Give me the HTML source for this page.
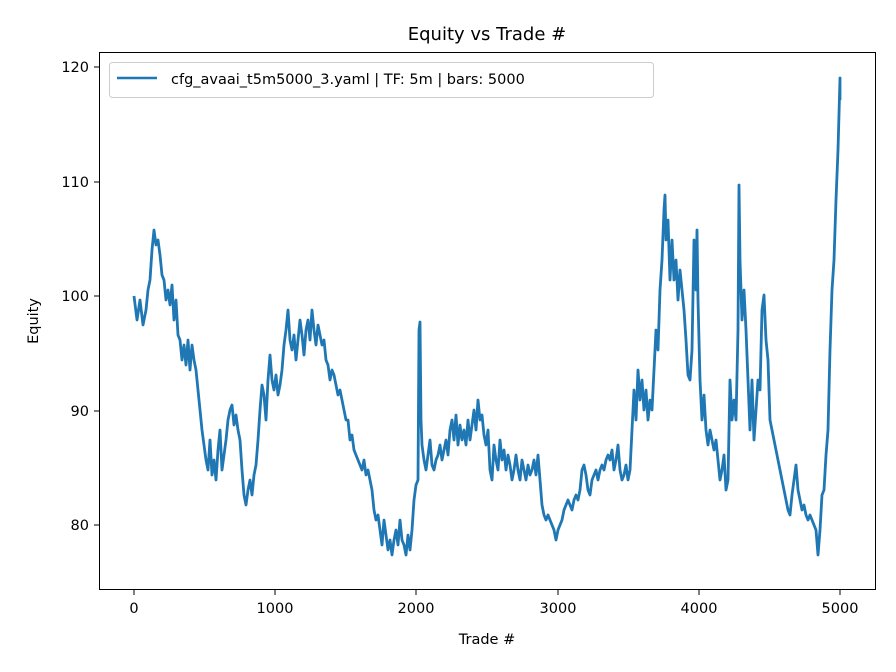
<!DOCTYPE html>
<html><head><meta charset="utf-8"><style>body{margin:0;background:#fff}svg{display:block;font-family:"DejaVu Sans","Liberation Sans",sans-serif}</style></head><body>
<svg width="896" height="672" viewBox="0 0 896 672">
<rect width="896" height="672" fill="#fff"/>
<text x="487" y="40" font-size="18" text-anchor="middle">Equity vs Trade #</text>
<g stroke="#000" stroke-width="1">
<line x1="134" y1="590" x2="134" y2="595"/><line x1="275" y1="590" x2="275" y2="595"/><line x1="416" y1="590" x2="416" y2="595"/><line x1="558" y1="590" x2="558" y2="595"/><line x1="699" y1="590" x2="699" y2="595"/><line x1="840" y1="590" x2="840" y2="595"/>
<line x1="94" y1="67" x2="99" y2="67"/><line x1="94" y1="182" x2="99" y2="182"/><line x1="94" y1="296" x2="99" y2="296"/><line x1="94" y1="411" x2="99" y2="411"/><line x1="94" y1="525" x2="99" y2="525"/>
</g>
<g font-size="14.5" text-anchor="middle">
<text x="134" y="613">0</text><text x="275" y="613">1000</text><text x="416" y="613">2000</text><text x="558" y="613">3000</text><text x="699" y="613">4000</text><text x="840" y="613">5000</text>
</g>
<g font-size="14.5" text-anchor="end">
<text x="89" y="72">120</text><text x="89" y="187">110</text><text x="89" y="301">100</text><text x="89" y="416">90</text><text x="89" y="530">80</text>
</g>
<text x="487" y="644" font-size="14.5" text-anchor="middle">Trade #</text>
<text transform="translate(38,321) rotate(-90)" font-size="14.5" text-anchor="middle">Equity</text>
<polyline fill="none" stroke="#1f77b4" stroke-width="2.8" stroke-linejoin="round" points="134,296 137,320 140,300 143,325 146,310 148,290 150,280 152,250 154,230 156,245 158,240 160,255 162,275 164,280 166,300 168,290 170,305 172,285 174,320 176,300 178,335 180,340 182,360 184,345 186,365 188,340 190,370 192,345 194,360 196,370 198,390 200,410 202,430 204,445 206,460 208,470 210,440 212,475 214,460 216,480 218,450 220,430 222,470 224,455 226,440 228,420 230,410 232,405 234,425 236,415 238,430 240,440 242,470 244,495 246,505 248,490 250,480 252,495 254,475 256,465 258,440 260,410 262,385 264,395 266,420 268,380 270,355 272,380 274,390 276,375 278,395 280,385 282,370 284,345 286,330 288,310 290,340 292,350 294,335 296,360 298,340 300,320 302,335 304,355 306,330 308,320 310,340 312,310 314,330 316,345 318,325 320,335 322,345 324,340 326,360 328,365 330,380 332,370 334,375 336,385 338,395 340,390 342,400 344,410 346,420 348,420 350,440 352,435 354,450 356,455 358,460 360,465 362,470 364,460 366,475 368,470 370,480 372,490 374,510 376,520 378,515 380,530 382,545 384,520 386,535 388,550 390,540 392,555 394,540 396,530 398,545 400,520 402,540 404,545 406,555 408,535 410,550 412,530 414,500 416,485 418,480 419,330 420,322 421,420 422,445 424,460 426,470 428,455 430,440 432,465 434,470 436,460 438,455 440,445 442,460 444,450 446,440 448,455 450,430 452,420 454,440 456,415 458,445 460,425 462,440 464,430 466,445 468,420 470,440 472,425 474,410 476,430 478,400 480,420 482,415 484,435 486,445 488,430 490,470 492,480 494,445 496,460 498,470 500,440 502,460 504,450 506,470 508,455 510,465 512,480 514,470 516,455 518,470 520,480 522,460 524,470 526,480 528,465 530,475 532,470 534,460 536,475 538,455 540,480 542,505 544,515 546,520 548,515 550,520 552,525 554,530 556,540 558,530 560,525 562,520 564,510 566,505 568,500 570,505 572,510 574,500 576,495 578,500 580,490 582,470 584,465 586,475 588,490 590,495 592,480 594,475 596,470 598,480 600,470 602,465 604,470 606,460 608,455 610,460 612,450 614,470 616,460 618,445 620,470 622,480 624,475 626,465 628,480 630,470 632,430 634,390 636,420 638,370 640,400 642,380 644,410 646,390 648,420 650,400 652,410 654,370 656,330 658,350 660,290 662,260 664,210 665,195 666,240 668,220 670,280 672,240 674,280 676,260 678,300 680,270 682,290 684,310 686,340 688,375 690,380 692,350 694,240 696,290 697,230 698,300 700,380 702,420 704,395 706,430 708,445 710,430 712,440 714,450 716,440 718,460 720,480 722,470 724,455 726,490 728,480 730,380 732,420 734,400 736,420 738,330 739,185 740,260 742,320 744,290 746,330 748,380 750,430 752,380 754,440 756,410 758,380 760,390 762,310 764,295 766,340 768,360 770,420 772,430 774,440 776,450 778,460 780,470 782,480 784,490 786,500 788,510 790,515 792,495 794,480 796,465 798,490 800,500 802,510 804,505 806,515 808,520 810,515 812,520 814,525 816,530 818,555 820,530 822,495 824,490 826,455 828,430 830,350 832,290 834,260 836,200 838,150 840,78 840,100"/>
<rect x="99.5" y="52.5" width="776" height="537" fill="none" stroke="#000" stroke-width="1"/>
<rect x="109.5" y="62.5" width="544" height="35" rx="3" fill="#fff" fill-opacity="0.8" stroke="#ccc"/>
<line x1="117" y1="78" x2="157" y2="78" stroke="#1f77b4" stroke-width="2.5"/>
<text x="171" y="84" font-size="14.5">cfg_avaai_t5m5000_3.yaml | TF: 5m | bars: 5000</text>
</svg>
</body></html>
